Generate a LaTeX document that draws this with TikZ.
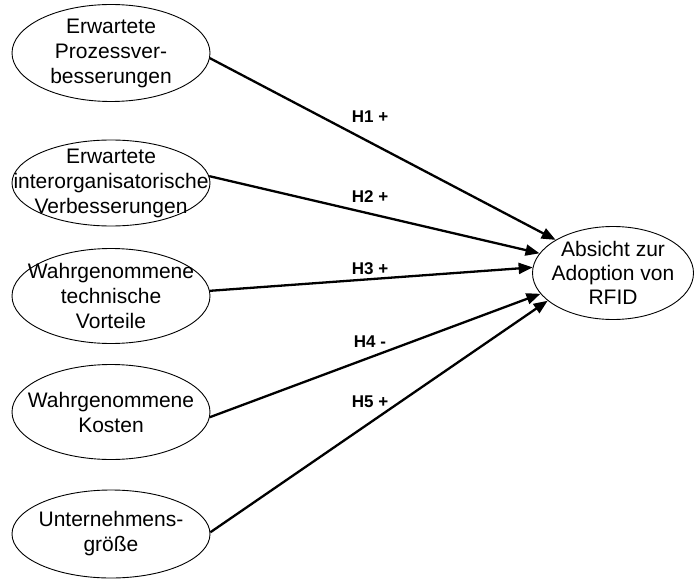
\documentclass[tikz,border=0pt]{standalone}
\usepackage{fontspec}
\setmainfont{Liberation Sans}
\usetikzlibrary{shapes.geometric,arrows.meta}

\tikzset{
  konstrukt/.style={draw, ellipse, line width=0.9pt, inner sep=0pt, minimum width=198},
  ktext/.style={align=center, font=\fontsize{21}{25}\selectfont},
  pfeil/.style={line width=2.3pt, -{Triangle[length=14pt,width=11pt]}},
  hyp/.style={font=\fontsize{17}{19}\selectfont\bfseries}
}

\begin{document}
\begin{tikzpicture}[x=1pt,y=-1pt]
    \useasboundingbox (0,0) rectangle (695,580);

    % Einflussfaktoren
    \node[konstrukt, minimum height=97, label={[ktext]center:{Erwartete\\Prozessver-\\besserungen}}] (pv) at (111,53) {};
    \node[konstrukt, minimum height=86, label={[ktext]center:{Erwartete\\interorganisatorische\\Verbesserungen}}] (iv) at (111,183) {};
    \node[konstrukt, minimum height=95, label={[ktext]center:{Wahrgenommene\\technische\\Vorteile}}] (tv) at (111,296) {};
    \node[konstrukt, minimum height=95, label={[ktext]center:{Wahrgenommene\\Kosten}}] (kv) at (111,412) {};
    \node[konstrukt, minimum height=88, label={[ktext]center:{Unternehmens-\\gr\"o\ss e}}] (ug) at (111,534) {};

    % Zielkonstrukt
    \node[konstrukt, minimum width=161, minimum height=93, label={[ktext, font=\fontsize{21}{24}\selectfont]center:{Absicht zur\\Adoption von\\RFID}}] (ziel) at (613,273) {};

    % Hypothesen
    \foreach \von/\a/\b in {pv/-3/150, iv/4/165, tv/3/176, kv/-3/196, ug/1/203}
        \draw[pfeil] (\von.\a) -- (ziel.\b);

    \foreach \n/\y/\s in {1/117/+, 2/197/+, 3/269/+, 4/342/-, 5/402/+}
        \node[hyp] (h\n) at (370,\y) {H\n\ \s};
\end{tikzpicture}
\end{document}
